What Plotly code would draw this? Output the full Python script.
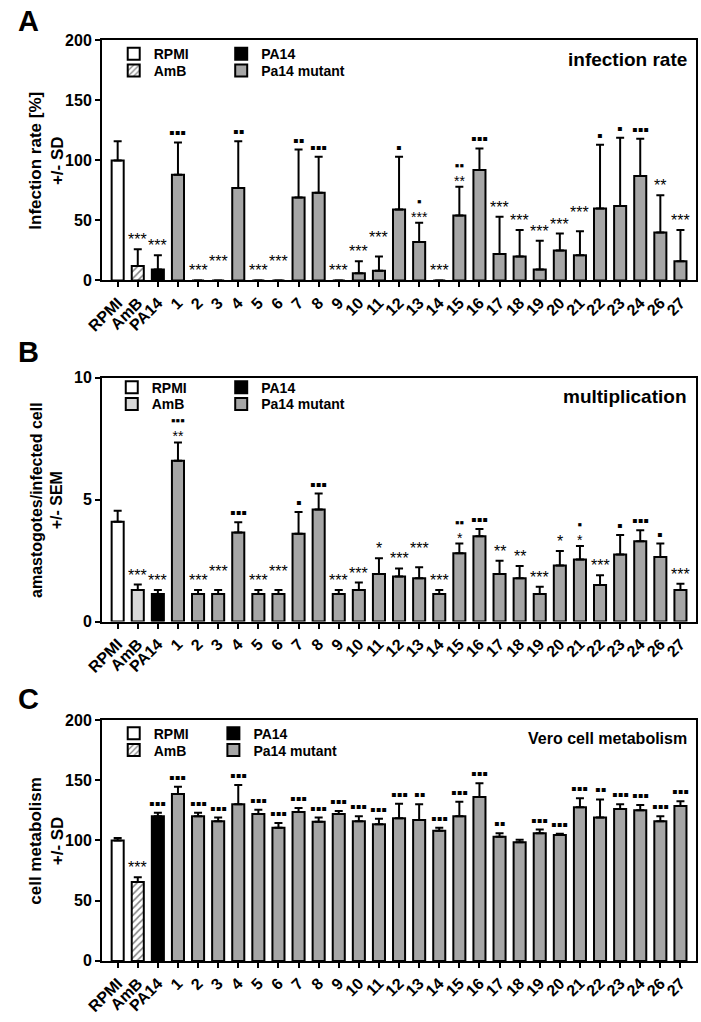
import plotly.graph_objects as go

# ---------------- data ----------------
cats = ["RPMI", "AmB", "PA14"] + [str(i) for i in range(1, 25)] + ["26", "27"]

# Panel A: infection rate [%] (mean, +SD)
A_mean = [100, 12, 9, 88, 0, 0, 77, 0, 0, 69, 73, 0, 6, 8, 59, 32, 0, 54, 92,
          22, 20, 9, 25, 21, 60, 62, 87, 40, 16]
A_sd = [16, 14, 12, 27, 0, 0, 39, 0, 0, 40, 30, 0, 10, 12, 44, 16, 0, 24, 18,
        31, 22, 24, 14, 20, 53, 57, 31, 31, 26]
A_sig = ["", "***", "***", "▪▪▪", "***", "***", "▪▪", "***", "***", "▪▪", "▪▪▪",
         "***", "***", "***", "▪", "▪|***", "***", "▪▪|**", "▪▪▪", "***",
         "***", "***", "***", "***", "▪", "▪", "▪▪▪", "**", "***"]

# Panel B: amastigotes / infected cell (mean, +SEM)
B_mean = [4.1, 1.3, 1.13, 6.6, 1.13, 1.13, 3.65, 1.13, 1.13, 3.6, 4.6, 1.13,
          1.3, 1.95, 1.85, 1.78, 1.13, 2.8, 3.5, 1.95, 1.78, 1.13, 2.3, 2.55,
          1.5, 2.75, 3.3, 2.65, 1.3]
B_sem = [0.45, 0.22, 0.17, 0.75, 0.17, 0.17, 0.42, 0.17, 0.17, 0.9, 0.65, 0.17,
         0.3, 0.65, 0.33, 0.45, 0.17, 0.4, 0.3, 0.55, 0.5, 0.3, 0.6, 0.55,
         0.4, 0.8, 0.45, 0.55, 0.25]
B_sig = ["", "***", "***", "▪▪▪|**", "***", "***", "▪▪▪", "***", "***", "▪",
         "▪▪▪", "***", "***", "*", "***", "***", "***", "▪▪|*", "▪▪▪", "**",
         "**", "***", "*", "▪|*", "***", "▪", "▪▪▪", "▪", "***"]

# Panel C: Vero cell metabolism (mean, +SD)
C_mean = [100, 65.5, 120, 138.5, 120, 116, 130, 122, 110.5, 123.5, 115.5, 122,
          116, 113.5, 118.5, 117, 108, 120, 136, 103, 98.5, 106, 104.5, 127.5,
          119, 126, 125, 116, 128.5]
C_sd = [2, 4, 3, 6, 3, 3, 16, 3.5, 4, 3.5, 3.5, 2.5, 4, 4.5, 12, 13, 2.5, 12,
        11.5, 3, 2, 3, 1, 7.5, 15, 4, 4.5, 4, 4]
C_sig = ["", "***", "▪▪▪", "▪▪▪", "▪▪▪", "▪▪▪", "▪▪▪", "▪▪▪", "▪▪▪", "▪▪▪", "▪▪▪",
         "▪▪▪", "▪▪▪", "▪▪▪", "▪▪▪", "▪▪", "▪▪▪", "▪▪▪", "▪▪▪", "▪▪", "",
         "▪▪▪", "▪▪▪", "▪▪▪", "▪▪", "▪▪▪", "▪▪▪", "▪▪▪", "▪▪▪"]

group_names = ["RPMI", "AmB", "PA14", "Pa14 mutant"]
panel_letters = ["A", "B", "C"]
panel_titles = ["infection rate", "multiplication", "Vero cell metabolism"]
y_titles = ["Infection rate [%]<br>+/- SD",
            "amastogotes/infected cell<br>+/- SEM",
            "cell metabolism<br>+/- SD"]
y_ticks = [[0, 50, 100, 150, 200], [0, 5, 10], [0, 50, 100, 150, 200]]
y_ranges = [[0, 200], [0, 10], [0, 200]]

# ---------------- layout helpers ----------------
W, H = 701, 1022
FONT = "Liberation Sans, Arial, sans-serif"


def fx(p):
    return p / W


def fy(p):
    return 1 - p / H


plot_left, plot_right = 88, 696
panel_px = [(33, 277), (376, 624), (724, 969)]   # (top, bottom) in pixels
letter_y = [13, 350, 703]
title_size = [19, 19, 16]
ytitle_size = [17, 16, 17]
# legend: text start x for the two columns, row centres
legend_cols = [(140, 250), (138, 250), (140, 242)]
legend_rows = [(47, 64), (386, 403), (738, 755)]

means = [A_mean, B_mean, C_mean]
errs = [A_sd, B_sem, C_sd]
sigs = [A_sig, B_sig, C_sig]

GRAY = "#a6a6a6"
SIG_SIZE = 16

fig = go.Figure()
annotations = []
layout = {}
leg_n = 0

for p in range(3):
    sfx = "" if p == 0 else str(p + 1)
    xa, ya = "x" + sfx, "y" + sfx
    mean, err, sig = means[p], errs[p], sigs[p]
    top, bot = panel_px[p]
    px_per_unit = (bot - top) / (y_ranges[p][1] - y_ranges[p][0])

    groups = [
        ("RPMI", [0], dict(color="white")),
        ("AmB", [1], dict(color="#d9d9d9") if p == 1 else
         dict(color="white", pattern=dict(shape="/", fgcolor="black",
                                           bgcolor="white", size=5,
                                           solidity=0.3))),
        ("PA14", [2], dict(color="black")),
        ("Pa14 mutant", list(range(3, len(cats))), dict(color=GRAY)),
    ]
    # legend placement: column-major 2x2
    slots = [(0, 0), (0, 1), (1, 0), (1, 1)]
    for g, (gname, idxs, mk) in enumerate(groups):
        leg_n += 1
        lkey = "legend" if leg_n == 1 else "legend" + str(leg_n)
        col, row = slots[g]
        layout[lkey] = dict(
            x=fx(legend_cols[p][col] - 40), y=fy(legend_rows[p][row]),
            xanchor="left", yanchor="middle", orientation="h",
            xref="paper", yref="paper", bgcolor="rgba(0,0,0,0)",
            font=dict(family=FONT, size=14, color="black", weight="bold"),
            borderwidth=0,
        )
        mk = dict(mk)
        mk["line"] = dict(color="black", width=2)
        fig.add_trace(go.Bar(
            x=[cats[i] for i in idxs],
            y=[mean[i] for i in idxs],
            error_y=dict(type="data", symmetric=False,
                         array=[err[i] for i in idxs],
                         arrayminus=[0] * len(idxs),
                         color="black", thickness=2, width=4),
            marker=mk, width=0.6, name=gname, legend=lkey,
            xaxis=xa, yaxis=ya, showlegend=True,
        ))

    layout["xaxis" + sfx] = dict(
        domain=[fx(plot_left), fx(plot_right)], anchor=ya,
        type="category", categoryorder="array", categoryarray=cats,
        range=[-0.78, len(cats) - 1 + 0.78],
        showline=True, linecolor="black", linewidth=2, mirror=True,
        ticks="outside", ticklen=5, tickwidth=2, tickcolor="black",
        tickangle=-45, tickfont=dict(family=FONT, size=16, color="black",
                                     weight="bold"),
        showgrid=False, zeroline=False, fixedrange=True,
    )
    layout["yaxis" + sfx] = dict(
        domain=[fy(bot), fy(top)], anchor=xa, range=y_ranges[p],
        tickvals=y_ticks[p], ticktext=[str(v) for v in y_ticks[p]],
        showline=True, linecolor="black", linewidth=2, mirror=True,
        ticks="outside", ticklen=5, tickwidth=2, tickcolor="black",
        tickfont=dict(family=FONT, size=16, color="black", weight="bold"),
        showgrid=False, zeroline=False, fixedrange=True,
    )

    # significance marks above each error bar (x = category index)
    prev_px, prev_raised, prev_star = None, False, False
    for i in range(len(cats)):
        if not sig[i]:
            prev_px, prev_raised, prev_star = None, False, False
            continue
        parts = sig[i].split("|")
        top_val = mean[i] + err[i]
        cap_px = top_val * px_per_unit
        is_star = len(parts) == 1 and parts[0].startswith("*")
        # stagger neighbouring star labels that sit at the same height
        raise_it = (is_star and prev_star and prev_px is not None
                    and not prev_raised and abs(cap_px - prev_px) < 5)
        if len(parts) == 1:
            text, fsize = parts[0], SIG_SIZE
            shift = -1 + (9 if raise_it else 0)
        else:
            # stacked marks: squares above stars, compact line spacing
            text = ('<span style="font-size:13px">%s</span><br>'
                    '<span style="font-size:14px">%s</span>'
                    % (parts[0], parts[1]))
            fsize = 12.5
            shift = -4
        annotations.append(dict(
            x=i, y=top_val, xref=xa, yref=ya,
            text=text, showarrow=False, yanchor="bottom",
            xanchor="center", yshift=shift,
            font=dict(family=FONT, size=fsize, color="black"),
        ))
        prev_px, prev_raised, prev_star = cap_px, raise_it, is_star

    # panel letter
    annotations.append(dict(
        x=0, y=fy(letter_y[p]), xref="paper", yref="paper",
        text=panel_letters[p], showarrow=False, xanchor="left",
        yanchor="middle",
        font=dict(family=FONT, size=29, color="black", weight="bold"),
    ))
    # panel title (top-right inside plot)
    annotations.append(dict(
        x=fx(plot_right - 7), y=fy(top + 19), xref="paper", yref="paper",
        text=panel_titles[p], showarrow=False, xanchor="right",
        yanchor="middle",
        font=dict(family=FONT, size=title_size[p], color="black",
                  weight="bold"),
    ))
    # y-axis title
    annotations.append(dict(
        x=fx(31), y=fy((top + bot) / 2), xref="paper", yref="paper",
        text=y_titles[p], showarrow=False, textangle=-90,
        xanchor="center", yanchor="middle",
        font=dict(family=FONT, size=ytitle_size[p], color="black",
                  weight="bold"),
    ))

fig.update_layout(
    width=W, height=H, margin=dict(l=0, r=0, t=0, b=0),
    paper_bgcolor="white", plot_bgcolor="white", barmode="overlay",
    annotations=annotations, showlegend=True, **layout,
)

fig.write_html("out.html", config={"displayModeBar": False},
               post_script="document.body.style.margin='0';")
